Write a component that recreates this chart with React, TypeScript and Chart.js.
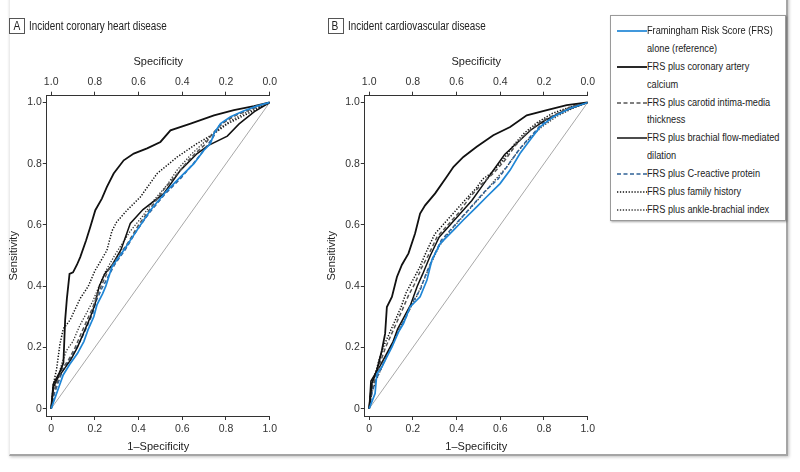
import React, { useEffect, useRef } from 'react';
import { Chart, registerables } from 'chart.js';

Chart.register(...registerables);

const FONT = '"Liberation Sans", Arial, Helvetica, sans-serif';

// ---- tick values and labels ----
const tickValues = [0, 0.2, 0.4, 0.6, 0.8, 1.0];
const bottomLabels = ['0', '0.2', '0.4', '0.6', '0.8', '1.0'];
const topLabels = ['1.0', '0.8', '0.6', '0.4', '0.2', '0.0'];
const leftLabels = ['0', '0.2', '0.4', '0.6', '0.8', '1.0'];

// ---- panel titles ----
const panelLetters = ['A', 'B'];
const panelTitles = ['Incident coronary heart disease', 'Incident cardiovascular disease'];

// ---- series names (legend) ----
const seriesNames = [
  ['Framingham Risk Score (FRS)', 'alone (reference)'],
  ['FRS plus coronary artery', 'calcium'],
  ['FRS plus carotid intima-media', 'thickness'],
  ['FRS plus brachial flow-mediated', 'dilation'],
  ['FRS plus C-reactive protein'],
  ['FRS plus family history'],
  ['FRS plus ankle-brachial index'],
];

// ---- Panel A: [1-specificity, sensitivity] ----
const frsA = [[0,0],[0.02,0.04],[0.035,0.07],[0.055,0.11],[0.085,0.145],[0.12,0.18],[0.15,0.22],[0.17,0.26],[0.195,0.3],[0.21,0.34],[0.235,0.375],[0.25,0.4],[0.278,0.463],[0.332,0.517],[0.393,0.583],[0.454,0.648],[0.531,0.713],[0.592,0.757],[0.653,0.8],[0.699,0.844],[0.729,0.866],[0.745,0.899],[0.775,0.931],[0.821,0.953],[0.88,0.972],[0.94,0.988],[1,1]];
const cacA = [[0,0],[0.01,0.08],[0.04,0.12],[0.056,0.15],[0.064,0.29],[0.072,0.36],[0.084,0.44],[0.1,0.445],[0.118,0.47],[0.133,0.495],[0.16,0.55],[0.179,0.593],[0.202,0.648],[0.232,0.686],[0.255,0.724],[0.286,0.768],[0.332,0.811],[0.378,0.833],[0.439,0.85],[0.5,0.871],[0.546,0.909],[0.638,0.931],[0.745,0.958],[0.836,0.975],[0.928,0.988],[1,1]];
const cimtA = [[0,0],[0.01,0.05],[0.03,0.09],[0.05,0.13],[0.08,0.16],[0.11,0.2],[0.14,0.25],[0.165,0.29],[0.19,0.33],[0.21,0.37],[0.235,0.41],[0.26,0.45],[0.3,0.49],[0.35,0.54],[0.4,0.6],[0.46,0.66],[0.52,0.72],[0.58,0.77],[0.64,0.82],[0.7,0.86],[0.74,0.9],[0.79,0.935],[0.85,0.96],[0.92,0.98],[1,1]];
const fmdA = [[0,0],[0.01,0.07],[0.03,0.1],[0.06,0.13],[0.09,0.16],[0.12,0.2],[0.15,0.25],[0.18,0.3],[0.2,0.34],[0.22,0.4],[0.245,0.44],[0.28,0.47],[0.32,0.52],[0.362,0.605],[0.42,0.65],[0.515,0.702],[0.592,0.779],[0.668,0.833],[0.72,0.86],[0.806,0.89],[0.86,0.93],[0.93,0.97],[1,1]];
const crpA = [[0,0],[0.015,0.05],[0.03,0.08],[0.05,0.12],[0.08,0.155],[0.11,0.19],[0.14,0.23],[0.165,0.27],[0.19,0.31],[0.205,0.35],[0.23,0.39],[0.26,0.43],[0.29,0.47],[0.34,0.52],[0.39,0.58],[0.45,0.64],[0.52,0.7],[0.59,0.75],[0.65,0.8],[0.7,0.845],[0.74,0.885],[0.77,0.925],[0.83,0.955],[0.9,0.975],[1,1]];
const fhA = [[0,0],[0.01,0.08],[0.025,0.13],[0.04,0.21],[0.055,0.26],[0.087,0.29],[0.1,0.31],[0.133,0.36],[0.17,0.4],[0.2,0.45],[0.225,0.48],[0.255,0.517],[0.278,0.58],[0.3,0.61],[0.347,0.648],[0.408,0.691],[0.485,0.768],[0.577,0.822],[0.668,0.866],[0.745,0.898],[0.806,0.93],[0.898,0.963],[1,1]];
const abiA = [[0,0],[0.01,0.06],[0.03,0.1],[0.05,0.15],[0.07,0.19],[0.1,0.22],[0.13,0.27],[0.16,0.31],[0.19,0.35],[0.225,0.41],[0.25,0.45],[0.29,0.5],[0.362,0.58],[0.42,0.63],[0.469,0.68],[0.53,0.73],[0.577,0.78],[0.64,0.83],[0.7,0.87],[0.76,0.91],[0.82,0.94],[0.9,0.97],[1,1]];

// ---- Panel B ----
const frsB = [[0,0],[0.027,0.049],[0.035,0.114],[0.058,0.136],[0.081,0.169],[0.104,0.201],[0.134,0.25],[0.157,0.278],[0.187,0.332],[0.233,0.365],[0.264,0.419],[0.287,0.485],[0.325,0.539],[0.386,0.583],[0.431,0.616],[0.492,0.659],[0.538,0.692],[0.599,0.735],[0.645,0.779],[0.69,0.833],[0.736,0.877],[0.782,0.92],[0.843,0.953],[0.919,0.98],[1,1]];
const cacB = [[0,0],[0.012,0.082],[0.035,0.125],[0.058,0.19],[0.073,0.245],[0.081,0.332],[0.104,0.365],[0.127,0.43],[0.15,0.47],[0.18,0.507],[0.21,0.572],[0.233,0.637],[0.256,0.664],[0.302,0.703],[0.355,0.757],[0.386,0.79],[0.431,0.822],[0.492,0.855],[0.568,0.893],[0.645,0.92],[0.721,0.958],[0.813,0.975],[0.904,0.991],[1,1]];
const cimtB = [[0,0],[0.01,0.06],[0.03,0.1],[0.05,0.15],[0.075,0.2],[0.1,0.24],[0.125,0.28],[0.15,0.32],[0.18,0.37],[0.21,0.41],[0.24,0.46],[0.27,0.5],[0.31,0.56],[0.36,0.6],[0.41,0.64],[0.46,0.69],[0.51,0.73],[0.57,0.77],[0.62,0.81],[0.67,0.86],[0.72,0.9],[0.78,0.935],[0.85,0.96],[0.92,0.985],[1,1]];
const fmdB = [[0,0],[0.008,0.09],[0.025,0.11],[0.05,0.14],[0.08,0.18],[0.11,0.22],[0.13,0.26],[0.16,0.3],[0.19,0.34],[0.22,0.4],[0.245,0.44],[0.28,0.5],[0.32,0.56],[0.37,0.6],[0.42,0.64],[0.47,0.68],[0.52,0.73],[0.57,0.78],[0.62,0.83],[0.68,0.87],[0.74,0.91],[0.8,0.94],[0.87,0.965],[0.94,0.985],[1,1]];
const crpB = [[0,0],[0.015,0.06],[0.035,0.1],[0.06,0.14],[0.085,0.18],[0.11,0.22],[0.14,0.26],[0.17,0.3],[0.2,0.35],[0.235,0.39],[0.26,0.44],[0.29,0.49],[0.33,0.55],[0.38,0.59],[0.43,0.63],[0.48,0.67],[0.53,0.71],[0.59,0.75],[0.64,0.8],[0.69,0.85],[0.74,0.89],[0.79,0.93],[0.86,0.96],[0.93,0.985],[1,1]];
const fhB = [[0,0],[0.01,0.07],[0.03,0.12],[0.05,0.17],[0.07,0.21],[0.095,0.25],[0.12,0.29],[0.145,0.33],[0.17,0.38],[0.2,0.42],[0.23,0.46],[0.26,0.51],[0.3,0.57],[0.35,0.61],[0.4,0.65],[0.45,0.69],[0.49,0.72],[0.52,0.75],[0.56,0.77],[0.61,0.81],[0.66,0.86],[0.71,0.9],[0.77,0.935],[0.84,0.965],[0.92,0.985],[1,1]];
const abiB = [[0,0],[0.012,0.05],[0.03,0.09],[0.055,0.13],[0.08,0.17],[0.105,0.21],[0.13,0.25],[0.16,0.29],[0.19,0.33],[0.22,0.37],[0.25,0.42],[0.28,0.47],[0.32,0.53],[0.37,0.58],[0.42,0.62],[0.47,0.66],[0.52,0.7],[0.58,0.75],[0.63,0.79],[0.68,0.84],[0.73,0.88],[0.79,0.92],[0.86,0.955],[0.93,0.98],[1,1]];

const diagonal = [[0,0],[1,1]];

// ---- styles per series (same order as seriesNames) ----
const seriesStyles = [
  { color: '#1f86d6', dash: [] as number[], width: 1.7 },
  { color: '#111111', dash: [] as number[], width: 1.8 },
  { color: '#555555', dash: [4, 2.5], width: 1.5 },
  { color: '#111111', dash: [] as number[], width: 1.5 },
  { color: '#2f6196', dash: [4, 2.5], width: 1.5 },
  { color: '#111111', dash: [1.3, 1.6], width: 1.5 },
  { color: '#333333', dash: [1.3, 1.6], width: 1.3 },
];

const panelSeries = [
  [frsA, cacA, cimtA, fmdA, crpA, fhA, abiA],
  [frsB, cacB, cimtB, fmdB, crpB, fhB, abiB],
];

const AXIS = '#333333';
const CW = 290;
const CH = 472;

function Panel({ index }: { index: number }) {
  const ref = useRef<HTMLCanvasElement | null>(null);
  useEffect(() => {
    const series = panelSeries[index];
    const datasets: any[] = series.map((s, i) => ({
      label: seriesNames[i].join(' '),
      data: s.map(([x, y]) => ({ x, y })),
      showLine: true,
      borderColor: seriesStyles[i].color,
      borderWidth: seriesStyles[i].width,
      borderDash: seriesStyles[i].dash,
      pointRadius: 0,
      fill: false,
      tension: 0,
    }));
    datasets.push({
      label: 'Reference line',
      data: diagonal.map(([x, y]) => ({ x, y })),
      showLine: true,
      borderColor: '#a8a8a8',
      borderWidth: 1,
      pointRadius: 0,
    });
    const setTicks = (scale: any) => {
      scale.ticks = tickValues.map((v) => ({ value: v }));
    };
    const tickFont = { family: FONT, size: 10.5 };
    const titleFont = { family: FONT, size: 11 };
    const grid = { display: true, drawOnChartArea: false, drawTicks: true, tickLength: 4, color: AXIS, lineWidth: 1 };
    const border = { display: true, color: AXIS, width: 1 };
    const chart = new Chart(ref.current as HTMLCanvasElement, {
      type: 'scatter',
      data: { datasets },
      options: {
        animation: false,
        responsive: false,
        devicePixelRatio: 1,
        layout: { padding: { left: 7.8, top: 55.7, right: 20.3, bottom: 18 } },
        plugins: { legend: { display: false }, tooltip: { enabled: false }, title: { display: false } },
        scales: {
          x: {
            type: 'linear', position: 'bottom', min: -0.02, max: 1.0,
            afterBuildTicks: setTicks,
            afterFit: (s: any) => { s.height = 38; },
            ticks: { font: tickFont, color: AXIS, padding: 3, maxRotation: 0, autoSkip: false,
              callback: (v: any) => bottomLabels[tickValues.findIndex((t) => Math.abs(t - v) < 1e-6)] },
            grid, border,
            title: { display: true, text: '1\u2013Specificity', font: titleFont, color: '#222', padding: { top: 0, bottom: 0 } },
          },
          x2: {
            type: 'linear', position: 'top', min: -0.02, max: 1.0,
            afterBuildTicks: setTicks,
            afterFit: (s: any) => { s.height = 40; },
            ticks: { font: tickFont, color: AXIS, padding: 3, maxRotation: 0, autoSkip: false,
              callback: (v: any) => topLabels[tickValues.findIndex((t) => Math.abs(t - v) < 1e-6)] },
            grid, border,
            title: { display: true, text: 'Specificity', font: titleFont, color: '#222', padding: { top: 0, bottom: 0 } },
          },
          y: {
            type: 'linear', position: 'left', min: -0.024, max: 1.022,
            afterBuildTicks: setTicks,
            afterFit: (s: any) => { s.width = 39; },
            ticks: { font: tickFont, color: AXIS, padding: 1, autoSkip: false,
              callback: (v: any) => leftLabels[tickValues.findIndex((t) => Math.abs(t - v) < 1e-6)] },
            grid, border,
            title: { display: true, text: 'Sensitivity', font: titleFont, color: '#222', padding: { top: 0, bottom: 0 } },
          },
        },
      } as any,
    });
    return () => chart.destroy();
  }, [index]);
  return (
    <canvas
      ref={ref}
      width={CW}
      height={CH}
      style={{ position: 'absolute', left: index === 0 ? 0 : 318, top: 0, width: CW, height: CH }}
    />
  );
}

const narrow = (scale: number): React.CSSProperties => ({
  display: 'inline-block', transform: `scaleX(${scale})`, transformOrigin: 'left center', whiteSpace: 'nowrap',
});

function PanelTitle({ index }: { index: number }) {
  const left = index === 0 ? 9 : 327.5;
  return (
    <div style={{ position: 'absolute', left, top: 18, height: 16, display: 'flex', alignItems: 'center', fontFamily: FONT, color: '#222', whiteSpace: 'nowrap' }}>
      <div style={{ width: 14, height: 14, border: '1px solid #555', fontSize: 12, lineHeight: '14px', textAlign: 'center' }}>
        <span style={{ ...narrow(0.85), transformOrigin: 'center center' }}>{panelLetters[index]}</span>
      </div>
      <div style={{ marginLeft: 4, fontSize: 12.5 }}>
        <span style={narrow(0.79)}>{panelTitles[index]}</span>
      </div>
    </div>
  );
}

function LegendSample({ i }: { i: number }) {
  const st = seriesStyles[i];
  return (
    <svg width={30} height={4} style={{ position: 'absolute', left: 6, top: 7 }}>
      <line x1={0} y1={2} x2={30} y2={2} stroke={st.color} strokeWidth={st.width}
        strokeDasharray={st.dash.length ? st.dash.join(' ') : undefined} />
    </svg>
  );
}

function Legend() {
  return (
    <div style={{
      position: 'absolute', left: 610, top: 15, width: 176, height: 206, background: '#fff',
      border: '1px solid #9a9a9a', boxShadow: '1px 1px 2px rgba(0,0,0,0.35)', boxSizing: 'border-box',
      paddingTop: 6, fontFamily: FONT, fontSize: 11.5, color: '#222',
    }}>
      {seriesNames.map((lines, i) => (
        <div key={i} style={{ position: 'relative', paddingLeft: 36 }}>
          <LegendSample i={i} />
          {lines.map((t, j) => (
            <div key={j} style={{ height: 17.9, lineHeight: '17.9px', whiteSpace: 'nowrap' }}>
              <span style={narrow(0.8)}>{t}</span>
            </div>
          ))}
        </div>
      ))}
    </div>
  );
}

export default function App() {
  return (
    <div style={{ position: 'absolute', left: 0, top: 0, width: 800, height: 472, background: '#fff', overflow: 'hidden' }}>
      <div style={{
        position: 'absolute', left: 9, top: -6, width: 779, height: 462, boxSizing: 'border-box',
        borderLeft: '1px solid #ececec', borderRight: '2px solid #a5a5a5', borderBottom: '2px solid #a5a5a5',
        boxShadow: '1px 1px 3px rgba(0,0,0,0.25)',
      }} />
      <Panel index={0} />
      <Panel index={1} />
      <PanelTitle index={0} />
      <PanelTitle index={1} />
      <Legend />
    </div>
  );
}
